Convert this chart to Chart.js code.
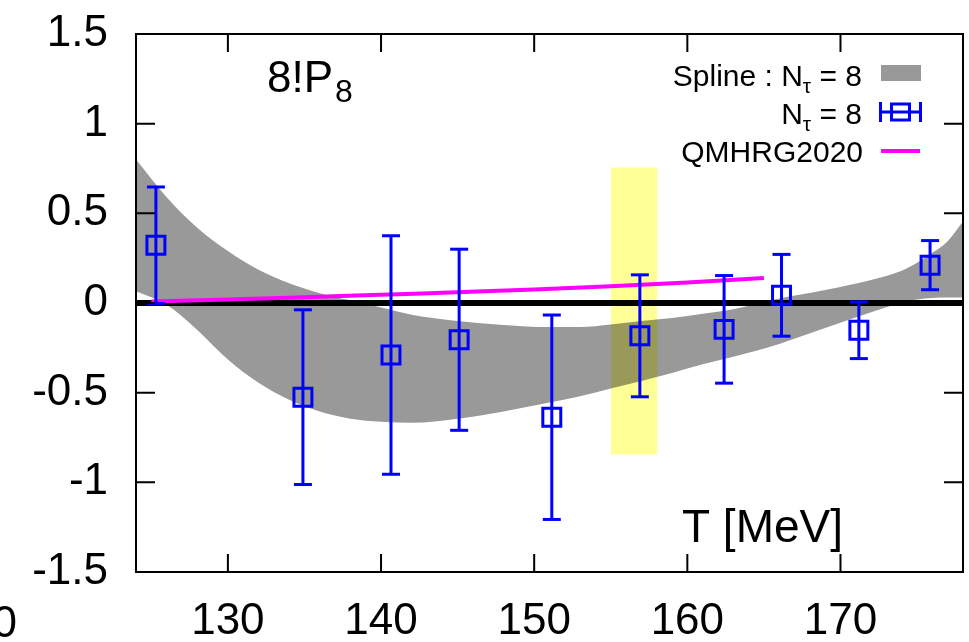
<!DOCTYPE html>
<html>
<head>
<meta charset="utf-8">
<script src="https://cdn.jsdelivr.net/npm/chart.js@4.4.1/dist/chart.umd.min.js"></script>
<style>
  html, body { margin: 0; padding: 0; background: #fff; }
  canvas { display: block; }
</style>
</head>
<body>
<canvas id="chart" width="969" height="642"></canvas>
<script>
// spline band (N_tau = 8): temperature grid, upper and lower edge
const bandT = [124, 126, 128, 130, 132, 134, 136, 138, 140, 142, 145, 148, 151, 153, 155, 157, 159, 161, 163, 166, 169, 172, 174, 175, 176, 177, 178];
const bandUpper = [0.80, 0.59, 0.42, 0.29, 0.185, 0.11, 0.055, 0.015, -0.025, -0.065, -0.10, -0.122, -0.134, -0.134, -0.12, -0.10, -0.083, -0.06, -0.035, 0.025, 0.072, 0.128, 0.18, 0.225, 0.28, 0.345, 0.455];
const bandLower = [0.065, -0.01, -0.15, -0.315, -0.445, -0.54, -0.605, -0.645, -0.662, -0.668, -0.645, -0.605, -0.555, -0.52, -0.477, -0.435, -0.39, -0.342, -0.30, -0.228, -0.14, -0.052, 0.003, 0.02, 0.028, 0.03, 0.03];

// lattice points N_tau = 8
const latT = [125.3, 134.9, 140.65, 145.1, 151.15, 156.9, 162.4, 166.15, 171.2, 175.85];
const latY = [0.322, -0.525, -0.29, -0.205, -0.637, -0.183, -0.147, 0.043, -0.152, 0.211];
const latErr = [0.325, 0.487, 0.665, 0.505, 0.57, 0.34, 0.30, 0.228, 0.158, 0.137];

// QMHRG2020
const hrgT = [125, 130, 135, 140, 145, 150, 155, 160, 165];
const hrgY = [0.008, 0.02, 0.032, 0.046, 0.06, 0.075, 0.093, 0.114, 0.14];

// T_pc band
const tcT = [155.0, 158.05];
const tcY = [-0.845, 0.755];

const zeroT = [124, 178];

const xTicks = [130, 140, 150, 160, 170];
const yTicks = [-1.5, -1, -0.5, 0, 0.5, 1, 1.5];

const FONT = '"Liberation Sans", Arial, Helvetica, sans-serif';
const BLUE = '#0000ff';
const GRAY = '#999999';
const MAGENTA = '#ff00ff';

const pts = (xs, ys) => xs.map((x, i) => ({ x: x, y: ys[i] }));

const errData = [];
latT.forEach((t, i) => {
    errData.push({ x: t, y: latY[i] + latErr[i] });
    errData.push({ x: t, y: latY[i] - latErr[i] });
    errData.push({ x: t, y: null });
});

const noLine = 'rgba(0,0,0,0)';

// text with subscripts: parts = [[text, isSub], ...]
function richText(ctx, parts, right, base, size, subSize, drop) {
    let w = 0;
    parts.forEach(p => {
        ctx.font = (p[1] ? subSize : size) + 'px ' + FONT;
        w += ctx.measureText(p[0]).width;
    });
    let x = right - w;
    ctx.textAlign = 'left';
    ctx.textBaseline = 'alphabetic';
    parts.forEach(p => {
        ctx.font = (p[1] ? subSize : size) + 'px ' + FONT;
        ctx.fillText(p[0], x, p[1] ? base + drop : base);
        x += ctx.measureText(p[0]).width;
    });
}

const noPad = s => {
    s.paddingTop = 0; s.paddingBottom = 0; s.paddingLeft = 0; s.paddingRight = 0;
};

// the T_pc band is laid over the spline band like a transparency (multiply)
const blend = {
    id: 'blend',
    afterDatasetDraw(chart, args) {
        const lbl = chart.data.datasets[args.index].label;
        if (lbl === 'tc top') chart.ctx.globalCompositeOperation = 'multiply';
        if (lbl === 'tc') chart.ctx.globalCompositeOperation = 'source-over';
    }
};

const decor = {
    id: 'decor',
    afterDraw(chart) {
        const { ctx, chartArea: a, scales: { x, y } } = chart;
        ctx.save();
        ctx.strokeStyle = '#000';
        ctx.lineWidth = 2;
        ctx.beginPath();
        xTicks.forEach(v => {
            const px = x.getPixelForValue(v);
            ctx.moveTo(px, a.bottom); ctx.lineTo(px, a.bottom - 18);
            ctx.moveTo(px, a.top); ctx.lineTo(px, a.top + 18);
        });
        yTicks.forEach(v => {
            const py = y.getPixelForValue(v);
            ctx.moveTo(a.left, py); ctx.lineTo(a.left + 19, py);
            ctx.moveTo(a.right, py); ctx.lineTo(a.right - 19, py);
        });
        ctx.stroke();
        ctx.strokeRect(a.left, a.top, a.right - a.left, a.bottom - a.top);

        ctx.fillStyle = '#000';
        // panel label
        ctx.font = '44px ' + FONT;
        ctx.textAlign = 'left';
        ctx.textBaseline = 'alphabetic';
        ctx.fillText('8!P', 267, 92);
        const w = ctx.measureText('8!P').width;
        ctx.font = '32px ' + FONT;
        ctx.fillText('8', 267 + w + 2, 102);

        // axis label
        ctx.font = '46px ' + FONT;
        ctx.textAlign = 'right';
        ctx.fillText('T [MeV]', 843, 542);

        // cut-off label of the neighbouring panel
        ctx.font = '44px ' + FONT;
        ctx.fillText('0', 17, 637);

        // legend
        richText(ctx, [['Spline : N', false], ['\u03c4', true], [' = 8', false]], 862, 86, 30, 21, 7);
        richText(ctx, [['N', false], ['\u03c4', true], [' = 8', false]], 862, 123.5, 30, 21, 7);
        richText(ctx, [['QMHRG2020', false]], 863, 161.5, 30, 21, 7);

        ctx.fillStyle = GRAY;
        ctx.fillRect(881, 65, 40, 16);

        ctx.strokeStyle = BLUE;
        ctx.lineWidth = 3;
        ctx.beginPath();
        ctx.moveTo(880, 112); ctx.lineTo(921, 112);
        ctx.moveTo(880.5, 102); ctx.lineTo(880.5, 122);
        ctx.moveTo(920.5, 102); ctx.lineTo(920.5, 122);
        ctx.stroke();
        ctx.strokeRect(891.5, 104, 18, 16);

        ctx.strokeStyle = MAGENTA;
        ctx.lineWidth = 4;
        ctx.beginPath();
        ctx.moveTo(881, 151); ctx.lineTo(920, 151);
        ctx.stroke();
        ctx.restore();
    }
};

new Chart(document.getElementById('chart'), {
    type: 'scatter',
    data: {
        datasets: [
            {
                label: 'band upper',
                data: pts(bandT, bandUpper),
                showLine: true,
                borderColor: noLine,
                borderWidth: 1,
                pointRadius: 0,
                cubicInterpolationMode: 'monotone',
                fill: false,
                order: 20
            },
            {
                label: 'Spline : N_tau = 8',
                data: pts(bandT, bandLower),
                showLine: true,
                borderColor: noLine,
                borderWidth: 1,
                pointRadius: 0,
                cubicInterpolationMode: 'monotone',
                backgroundColor: GRAY,
                fill: '-1',
                order: 19
            },
            {
                label: 'zero',
                data: pts(zeroT, [0, 0]),
                showLine: true,
                borderColor: '#000',
                borderWidth: 6,
                pointRadius: 0,
                order: 18
            },
            {
                label: 'tc top',
                data: pts(tcT, [tcY[1], tcY[1]]),
                showLine: true,
                borderColor: noLine,
                borderWidth: 1,
                pointRadius: 0,
                fill: false,
                order: 17
            },
            {
                label: 'tc',
                data: pts(tcT, [tcY[0], tcY[0]]),
                showLine: true,
                borderColor: noLine,
                borderWidth: 1,
                pointRadius: 0,
                backgroundColor: '#ffff96',
                fill: '-1',
                order: 16
            },
            {
                label: 'QMHRG2020',
                data: pts(hrgT, hrgY),
                showLine: true,
                borderColor: MAGENTA,
                borderWidth: 4,
                pointRadius: 0,
                cubicInterpolationMode: 'monotone',
                order: 15
            },
            {
                label: 'errors',
                data: errData,
                showLine: true,
                spanGaps: false,
                borderColor: BLUE,
                borderWidth: 3,
                pointStyle: 'line',
                pointRadius: 9,
                pointBorderColor: BLUE,
                pointBorderWidth: 3,
                order: 14
            },
            {
                label: 'N_tau = 8',
                data: pts(latT, latY),
                pointStyle: 'rect',
                pointRadius: 12.7,
                pointBorderColor: BLUE,
                pointBorderWidth: 3,
                pointBackgroundColor: 'rgba(0,0,0,0)',
                order: 13
            }
        ]
    },
    options: {
        responsive: false,
        animation: false,
        devicePixelRatio: 1,
        layout: { autoPadding: false, padding: { top: 34, right: 6, left: 0, bottom: 0 } },
        plugins: {
            legend: { display: false },
            tooltip: { enabled: false }
        },
        scales: {
            x: {
                type: 'linear',
                min: 124,
                max: 178,
                grid: { display: false, drawTicks: false, tickLength: 0 },
                border: { display: false },
                afterBuildTicks: s => { s.ticks = xTicks.map(v => ({ value: v })); },
                afterFit: s => { s.height = 70; noPad(s); },
                ticks: {
                    color: '#000',
                    font: { family: FONT, size: 44 },
                    padding: 23,
                    maxRotation: 0,
                    autoSkip: false,
                    callback: v => String(v)
                }
            },
            y: {
                min: -1.5,
                max: 1.5,
                grid: { display: false, drawTicks: false, tickLength: 0 },
                border: { display: false },
                afterBuildTicks: s => { s.ticks = yTicks.map(v => ({ value: v })); },
                afterFit: s => { s.width = 136; noPad(s); },
                ticks: {
                    color: '#000',
                    font: { family: FONT, size: 44 },
                    padding: 28,
                    autoSkip: false,
                    callback: v => String(v)
                }
            }
        }
    },
    plugins: [blend, decor]
});
</script>
</body>
</html>
